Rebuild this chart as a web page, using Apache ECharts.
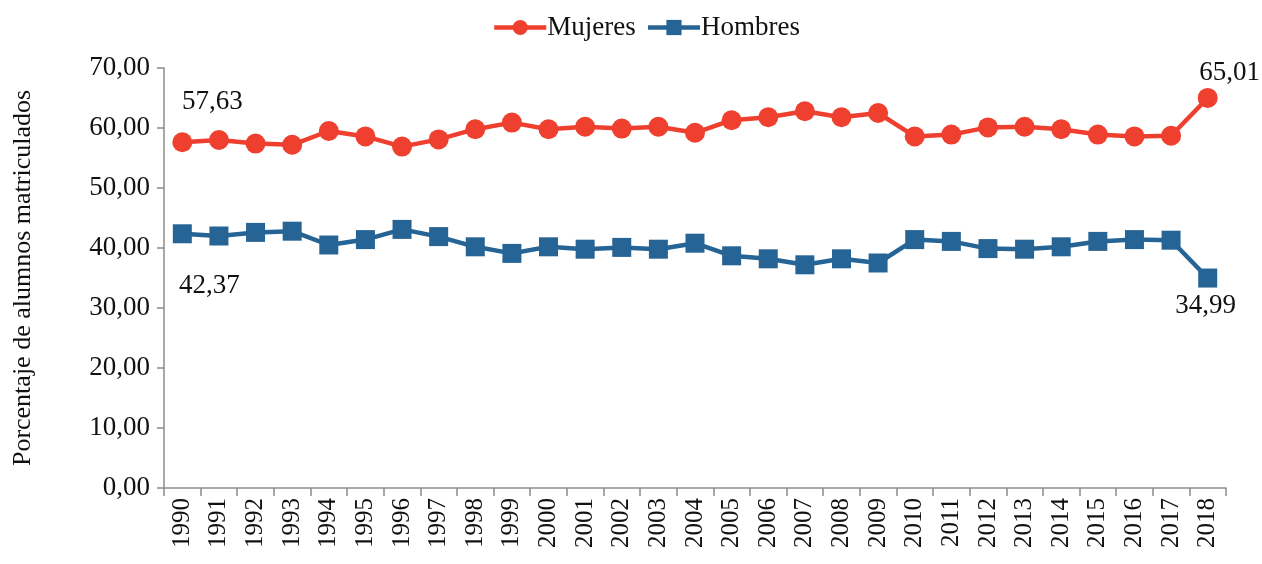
<!DOCTYPE html>
<html>
<head>
<meta charset="utf-8">
<style>
  html, body { margin: 0; padding: 0; background: #fff; }
  #main { width: 1262px; height: 564px; }
</style>
<script src="https://cdn.jsdelivr.net/npm/echarts@6/dist/echarts.min.js"></script>
</head>
<body>
<div id="main"></div>
<script>
var years = ['1990', '1991', '1992', '1993', '1994', '1995', '1996', '1997', '1998', '1999',
    '2000', '2001', '2002', '2003', '2004', '2005', '2006', '2007', '2008', '2009',
    '2010', '2011', '2012', '2013', '2014', '2015', '2016', '2017', '2018'];
var mujeres = [57.63, 58.0, 57.4, 57.2, 59.5, 58.6, 56.9, 58.1, 59.8, 60.9,
    59.8, 60.2, 59.9, 60.2, 59.2, 61.3, 61.8, 62.8, 61.8, 62.5,
    58.6, 58.9, 60.1, 60.2, 59.8, 58.9, 58.6, 58.7, 65.01];
var hombres = [42.37, 42.0, 42.6, 42.8, 40.5, 41.4, 43.1, 41.9, 40.2, 39.1,
    40.2, 39.8, 40.1, 39.8, 40.8, 38.7, 38.2, 37.2, 38.2, 37.5,
    41.4, 41.1, 39.9, 39.8, 40.2, 41.1, 41.4, 41.3, 34.99];
var yTicks = [0, 10, 20, 30, 40, 50, 60, 70];

var fmt = function (v) { return v.toFixed(2).replace('.', ','); };
var serif = 'Liberation Serif';
var red = '#ef3f2e';
var blue = '#266495';

// etiquetas solo en el primer y último punto
function withLabels(values, firstOffset, lastOffset, pos) {
    return values.map(function (v, i) {
        if (i === 0 || i === values.length - 1) {
            return {
                value: v,
                label: {
                    show: true,
                    position: pos,
                    offset: i === 0 ? firstOffset : lastOffset,
                    formatter: function (p) { return fmt(p.value); },
                    color: '#111',
                    fontSize: 27,
                    fontFamily: serif
                }
            };
        }
        return v;
    });
}

var myChart = echarts.init(document.getElementById('main'));
var option = {
    animation: false,
    textStyle: { fontFamily: serif },
    legend: {
        top: 9,
        left: 487,
        itemWidth: 52,
        itemHeight: 19,
        itemGap: 10,
        lineStyle: { width: 4.5 },
        textStyle: { fontSize: 27, color: '#111', fontFamily: serif, padding: [0, 0, 0, -4] },
        data: ['Mujeres', 'Hombres']
    },
    grid: { left: 164, right: 36, top: 68, bottom: 76 },
    xAxis: {
        type: 'category',
        data: years,
        boundaryGap: true,
        axisLine: { lineStyle: { color: '#8c8c8c', width: 1.5 } },
        axisTick: { show: true, length: 8, alignWithLabel: false, lineStyle: { color: '#8c8c8c', width: 1.5 } },
        axisLabel: { rotate: 90, fontSize: 25, color: '#111', fontFamily: serif, margin: 10, interval: 0 }
    },
    yAxis: {
        type: 'value',
        min: yTicks[0],
        max: yTicks[yTicks.length - 1],
        interval: 10,
        name: 'Porcentaje de alumnos matriculados',
        nameLocation: 'middle',
        nameGap: 128,
        nameTextStyle: { fontSize: 26, color: '#111', fontFamily: serif },
        splitLine: { show: false },
        axisLine: { show: true, lineStyle: { color: '#8c8c8c', width: 1.5 } },
        axisTick: { show: true, length: 7, lineStyle: { color: '#8c8c8c', width: 1.5 } },
        axisLabel: { fontSize: 27, color: '#111', fontFamily: serif, margin: 14, formatter: fmt }
    },
    series: [
        {
            name: 'Mujeres',
            type: 'line',
            data: withLabels(mujeres, [30, -12], [22, 3], 'top'),
            symbol: 'circle',
            symbolSize: 20,
            itemStyle: { color: red },
            lineStyle: { color: red, width: 4.5 }
        },
        {
            name: 'Hombres',
            type: 'line',
            data: withLabels(hombres, [27, 24], [-2, 0], 'bottom'),
            symbol: 'rect',
            symbolSize: 19,
            itemStyle: { color: blue },
            lineStyle: { color: blue, width: 4.5 }
        }
    ]
};

if (option && typeof option === 'object') {
    myChart.setOption(option, true);
}
</script>
</body>
</html>
